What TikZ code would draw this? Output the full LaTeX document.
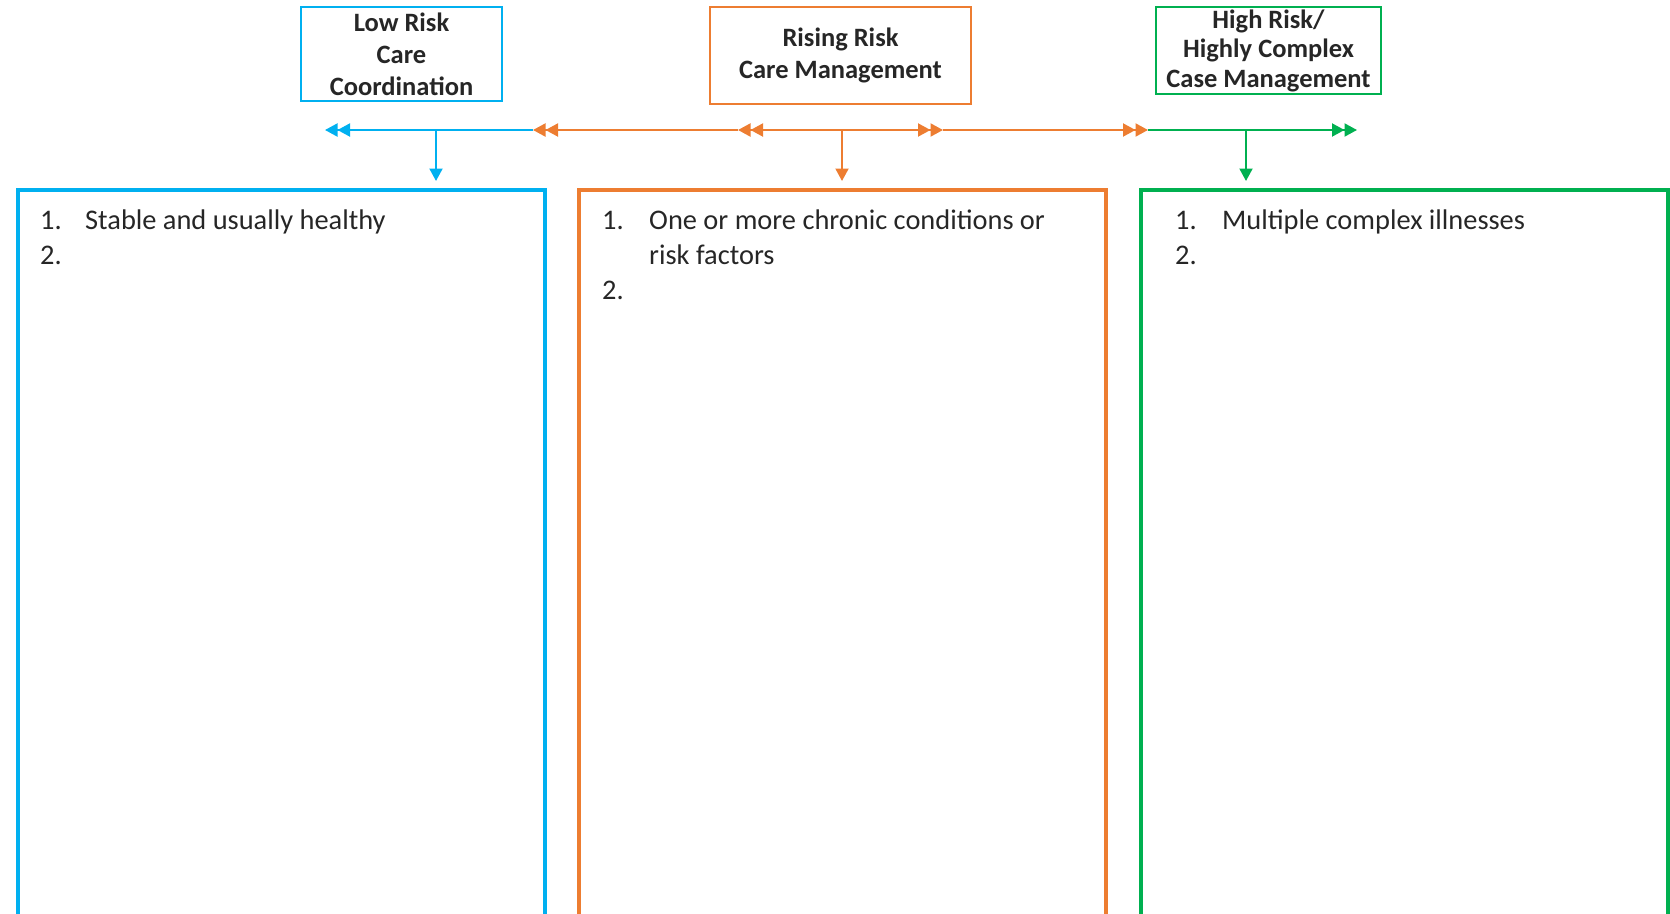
\documentclass[tikz,border=0pt]{standalone}
\usepackage{fontspec}
\setmainfont{Carlito}
\usetikzlibrary{arrows.meta}
\definecolor{cblue}{HTML}{00B0F0}
\definecolor{corange}{HTML}{ED7D31}
\definecolor{cgreen}{HTML}{00B050}
\tikzset{
  titlebox/.style={draw=#1, line width=2.5pt, inner sep=0pt, outer sep=0pt, align=center,
    font=\bfseries\fontsize{26.5}{32}\selectfont, text=black!85},
  bigbox/.style={draw=#1, line width=4.5pt, inner sep=0pt, outer sep=0pt, anchor=north west},
  item/.style={anchor=base west, inner sep=0pt, font=\fontsize{28.4}{35}\selectfont, text=black!85},
  dtip/.style={-{Triangle[length=12.5pt,width=13pt]Triangle[length=12.5pt,width=13pt]}},
  conn/.style={draw=#1, line width=2pt},
  down/.style={draw=#1, line width=2pt, -{Triangle[length=12.5pt,width=13pt]}}
}
\begin{document}
\begin{tikzpicture}[x=1pt,y=-1pt]
\useasboundingbox (0,0) rectangle (1670,913);
\clip (0,0) rectangle (1670,913);
% title boxes
\node[titlebox=cblue, minimum width=201pt, minimum height=94pt] (low) at (401.5,54) {Low Risk\\Care\\Coordination};
\node[titlebox=corange, minimum width=261pt, minimum height=97pt] (rise) at (840.5,55.5) {Rising Risk\\Care Management};
\node[titlebox=cgreen, minimum width=225pt, minimum height=87pt,
  font=\bfseries\fontsize{26.5}{29.5}\selectfont] (high) at (1268.5,50.5) {High Risk/\\Highly Complex\\Case Management};
% big boxes
\node[bigbox=cblue, minimum width=527pt, minimum height=780pt] (lowbox) at (18,190) {};
\node[bigbox=corange, minimum width=527pt, minimum height=780pt] (risebox) at (579,190) {};
\node[bigbox=cgreen, minimum width=527pt, minimum height=780pt] (highbox) at (1141,190) {};
% horizontal line coordinates
\coordinate (bl) at (325,130);
\coordinate (bj) at (436,130);
\coordinate (ol2) at (533,130);
\coordinate (ol1) at (738,130);
\coordinate (oj) at (842,130);
\coordinate (or1) at (943,130);
\coordinate (or2) at (1148,130);
\coordinate (gj) at (1246,130);
\coordinate (gr) at (1357,130);
% horizontal arrows
\draw[conn=cblue, dtip] (ol2) -- (bl);
\draw[conn=corange, dtip] (ol1) -- (ol2);
\draw[conn=corange, dtip] (oj) -- (ol1);
\draw[conn=corange, dtip] (oj) -- (or1);
\draw[conn=corange, dtip] (or1) -- (or2);
\draw[conn=cgreen, dtip] (or2) -- (gr);
% vertical arrows
\draw[down=cblue, shorten >=9pt] (bj) -- (bj |- lowbox.north);
\draw[down=corange, shorten >=9pt] (oj) -- (oj |- risebox.north);
\draw[down=cgreen, shorten >=9pt] (gj) -- (gj |- highbox.north);
% items
\node[item] (l1n) at (40,229) {1.};
\node[item] (l1t) at (85,229) {Stable and usually healthy};
\node[item] (l2n) at (40,264) {2.};
\node[item] (r1n) at (602,229) {1.};
\node[item] (r1t) at (649,229) {One or more chronic conditions or};
\node[item] (r1u) at (649,264) {risk factors};
\node[item] (r2n) at (602,299) {2.};
\node[item] (h1n) at (1175,229) {1.};
\node[item] (h1t) at (1222,229) {Multiple complex illnesses};
\node[item] (h2n) at (1175,264) {2.};
\end{tikzpicture}
\end{document}
